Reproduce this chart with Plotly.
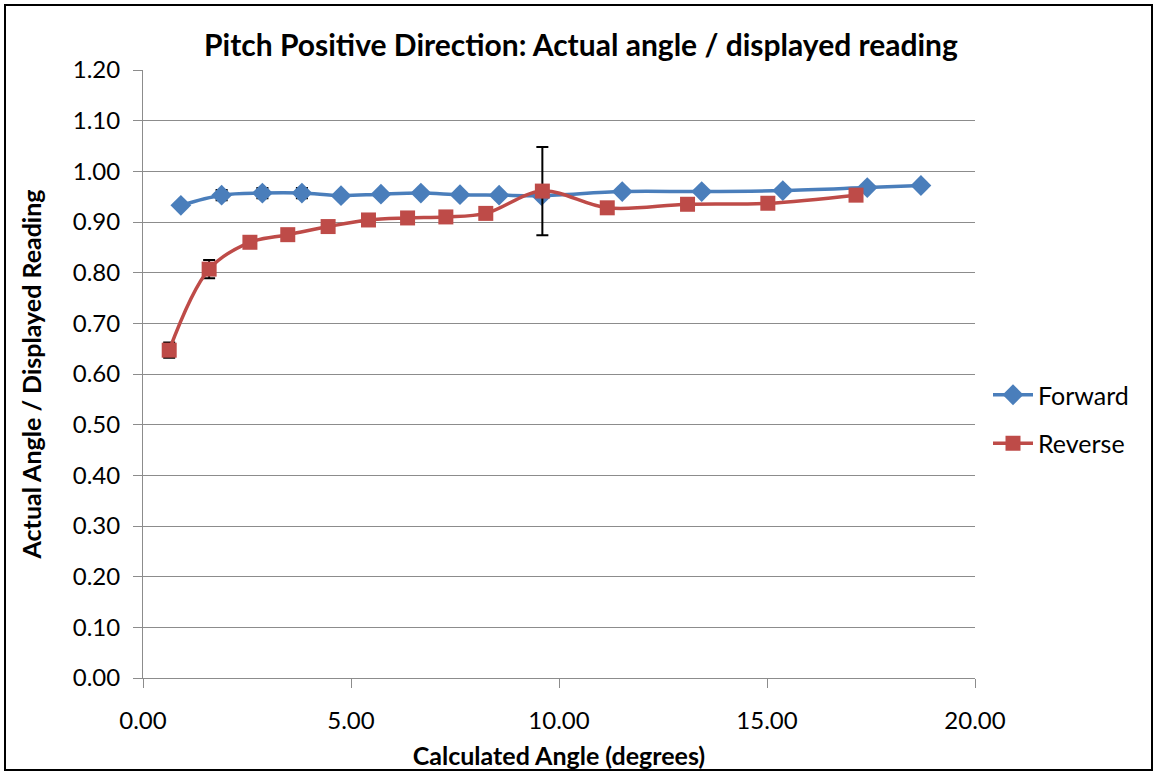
import plotly.graph_objects as go

# Data
fwd_x = [0.91, 1.89, 2.87, 3.82, 4.76, 5.72, 6.68, 7.62, 8.56, 9.58, 11.52, 13.43, 15.38, 17.41, 18.70]
fwd_y = [0.933, 0.953, 0.957, 0.957, 0.952, 0.955, 0.957, 0.954, 0.953, 0.952, 0.960, 0.960, 0.962, 0.968, 0.972]
fwd_err = [0.003, 0.010, 0.010, 0.010, 0.004, 0.004, 0.004, 0.004, 0.004, 0.004, 0.003, 0.003, 0.003, 0.003, 0.003]

rev_x = [0.63, 1.59, 2.57, 3.48, 4.45, 5.42, 6.36, 7.28, 8.24, 9.60, 11.16, 13.09, 15.02, 17.14]
rev_y = [0.647, 0.807, 0.860, 0.875, 0.891, 0.904, 0.908, 0.910, 0.917, 0.961, 0.928, 0.935, 0.937, 0.953]
rev_err = [0.015, 0.018, 0.004, 0.004, 0.003, 0.003, 0.003, 0.003, 0.004, 0.087, 0.003, 0.003, 0.003, 0.003]

title_text = "Pitch Positive Direction: Actual angle / displayed reading"
x_title = "Calculated Angle (degrees)"
y_title = "Actual Angle / Displayed Reading"

BLUE = "#4A7EBB"
RED = "#BE4B48"
GRID = "#8C8C8C"
FONT = "Lato"

fig = go.Figure()
fig.add_trace(go.Scatter(
    x=fwd_x, y=fwd_y, name="Forward", mode="lines+markers",
    line=dict(color=BLUE, width=3.5, shape="spline", smoothing=1.0),
    marker=dict(symbol="diamond", size=16, color=BLUE),
    error_y=dict(type="data", array=fwd_err, color="black", thickness=2, width=6),
    legendgroup="f",
))
fig.add_trace(go.Scatter(
    x=rev_x, y=rev_y, name="Reverse", mode="lines+markers",
    line=dict(color=RED, width=3.5, shape="spline", smoothing=1.0),
    marker=dict(symbol="square", size=15, color=RED),
    error_y=dict(type="data", array=rev_err, color="black", thickness=2, width=6),
    legendgroup="r",
))

# body margin is removed by post_script, so figure coords = screen coords
W, H = 1154, 772
L, R, T, B = 143, 975, 70, 678
pw, ph = R - L, B - T

def px(xs):
    return (xs - L) / pw

def py(ys):
    return (B - ys) / ph

fig.update_layout(
    width=W, height=H,
    margin=dict(l=L, r=W - R, t=T, b=H - B, autoexpand=False),
    paper_bgcolor="white", plot_bgcolor="white",
    font=dict(family=FONT, size=24, color="black"),
    title=dict(text="<b>" + title_text + "</b>", x=581 / W, y=1 - 45 / H,
               xanchor="center", yanchor="middle", xref="container", yref="container",
               font=dict(family=FONT, size=30, color="black")),
    showlegend=True,
    legend=dict(x=px(988), y=py(419), xanchor="left", yanchor="middle",
                font=dict(family=FONT, size=25, color="black"),
                tracegroupgap=13, traceorder="grouped", itemwidth=40,
                bgcolor="rgba(0,0,0,0)"),
    xaxis=dict(range=[0, 20], dtick=5, tick0=0, tickformat=".2f",
               showgrid=False, zeroline=False, automargin=False,
               showline=True, linecolor=GRID, linewidth=1,
               ticks="outside", ticklen=9, tickcolor=GRID,
               ticklabelstandoff=12,
               title=dict(text="<b>" + x_title + "</b>", standoff=14,
                          font=dict(family=FONT, size=25, color="black"))),
    yaxis=dict(range=[0, 1.2], dtick=0.1, tick0=0, tickformat=".2f",
               showgrid=True, gridcolor=GRID, gridwidth=1, zeroline=False, automargin=False,
               showline=True, linecolor=GRID, linewidth=1,
               ticks="outside", ticklen=9, tickcolor=GRID,
               ticklabelstandoff=8,
               title=dict(text="<b>" + y_title + "</b>", standoff=24,
                          font=dict(family=FONT, size=25, color="black"))),
)

# outer chart border
fig.add_shape(type="rect", xref="paper", yref="paper",
              x0=px(5), x1=px(1152), y0=py(770), y1=py(5),
              line=dict(color="black", width=2), fillcolor="rgba(0,0,0,0)", layer="below")

fig.write_html("out.html",
               config={"displayModeBar": False},
               post_script="document.body.style.margin='0px';document.body.style.overflow='hidden';")
